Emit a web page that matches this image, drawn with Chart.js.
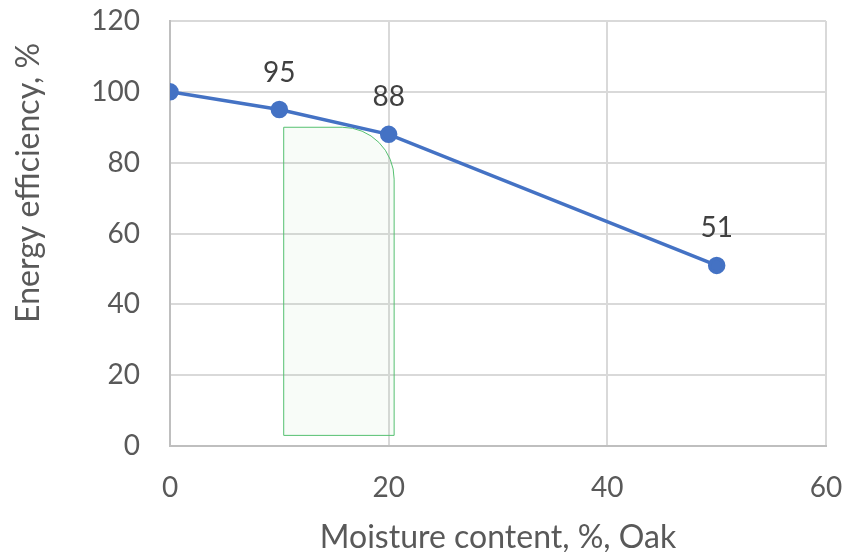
<!DOCTYPE html>
<html>
<head>
<meta charset="utf-8">
<script src="https://cdn.jsdelivr.net/npm/chart.js@4.4.1/dist/chart.umd.min.js"></script>
<style>
  html, body { margin: 0; padding: 0; background: #ffffff; }
  #wrap { width: 844px; height: 552px; }
</style>
</head>
<body>
<div id="wrap"><canvas id="c" width="844" height="552"></canvas></div>
<script>
// Moisture content (%) and resulting energy efficiency (%) for oak
const moisture = [0, 10, 20, 50];
const efficiency = [100, 95, 88, 51];
const pointLabels = ['', '95', '88', '51'];

// Highlighted moisture band (x range and y range, in data units)
const zoneX = [10.4, 20.5];
const zoneY = [3, 90];

const xTicks = [0, 20, 40, 60];
const yTicks = [0, 20, 40, 60, 80, 100, 120];

const xTitle = 'Moisture content, %, Oak';
const yTitle = 'Energy efficiency, %';

const FONT = 'Lato, "Open Sans", sans-serif';

const zonePlugin = {
  id: 'zone',
  beforeDatasetsDraw(chart) {
    const { ctx, scales: { x, y } } = chart;
    const l = x.getPixelForValue(zoneX[0]);
    const r = x.getPixelForValue(zoneX[1]);
    const t = y.getPixelForValue(zoneY[1]);
    const b = y.getPixelForValue(zoneY[0]);
    const rad = (r - l) * 0.47;
    ctx.save();
    ctx.beginPath();
    ctx.moveTo(l, b);
    ctx.lineTo(l, t);
    ctx.arcTo(r, t, r, b, rad);
    ctx.lineTo(r, b);
    ctx.closePath();
    ctx.fillStyle = 'rgba(120, 200, 130, 0.055)';
    ctx.fill();
    ctx.lineWidth = 1;
    ctx.strokeStyle = '#55c070';
    ctx.stroke();
    ctx.restore();
  }
};

const labelPlugin = {
  id: 'pointLabels',
  afterDatasetsDraw(chart) {
    const { ctx } = chart;
    const meta = chart.getDatasetMeta(0);
    ctx.save();
    ctx.font = '28px ' + FONT;
    ctx.fillStyle = '#404040';
    ctx.textAlign = 'center';
    ctx.textBaseline = 'middle';
    meta.data.forEach((pt, i) => {
      if (pointLabels[i]) ctx.fillText(pointLabels[i], pt.x, pt.y - 37);
    });
    ctx.restore();
  }
};

// Vertical axis title, set a little above the middle of the plot
const yTitlePlugin = {
  id: 'yTitle',
  afterDraw(chart) {
    const { ctx, chartArea } = chart;
    ctx.save();
    ctx.translate(29, chartArea.top + (chartArea.bottom - chartArea.top) * 0.381);
    ctx.rotate(-Math.PI / 2);
    ctx.font = '32px ' + FONT;
    ctx.fillStyle = '#595959';
    ctx.textAlign = 'center';
    ctx.textBaseline = 'middle';
    ctx.fillText(yTitle, 0, 0);
    ctx.restore();
  }
};

new Chart(document.getElementById('c'), {
  type: 'scatter',
  data: {
    datasets: [{
      data: moisture.map((m, i) => ({ x: m, y: efficiency[i] })),
      showLine: true,
      borderColor: '#4472C4',
      backgroundColor: '#4472C4',
      borderWidth: 3.5,
      pointRadius: 7,
      pointHoverRadius: 7,
      tension: 0
    }]
  },
  options: {
    responsive: false,
    animation: false,
    layout: { padding: { top: 21, right: 18, bottom: 0, left: 0 } },
    plugins: { legend: { display: false }, tooltip: { enabled: false } },
    scales: {
      x: {
        type: 'linear',
        min: 0, max: 60,
        afterBuildTicks(s) { s.ticks = xTicks.map(v => ({ value: v })); },
        afterFit(s) { s.height = 106; s.paddingLeft = 0; s.paddingRight = 0; },
        grid: { color: '#d9d9d9', lineWidth: 2, drawTicks: false },
        border: { color: '#bfbfbf', width: 2 },
        ticks: { color: '#595959', font: { family: FONT, size: 28 }, padding: 25 },
        title: {
          display: true,
          text: xTitle,
          color: '#595959',
          font: { family: FONT, size: 32 },
          padding: { top: 0, bottom: -5 }
        }
      },
      y: {
        type: 'linear',
        min: 0, max: 120,
        afterBuildTicks(s) { s.ticks = yTicks.map(v => ({ value: v })); },
        afterFit(s) { s.width = 170; s.paddingTop = 0; s.paddingBottom = 0; },
        grid: { color: '#d9d9d9', lineWidth: 2, drawTicks: false },
        border: { color: '#bfbfbf', width: 2 },
        ticks: { color: '#595959', font: { family: FONT, size: 28 }, padding: 30 }
      }
    }
  },
  plugins: [zonePlugin, labelPlugin, yTitlePlugin]
});
</script>
</body>
</html>
